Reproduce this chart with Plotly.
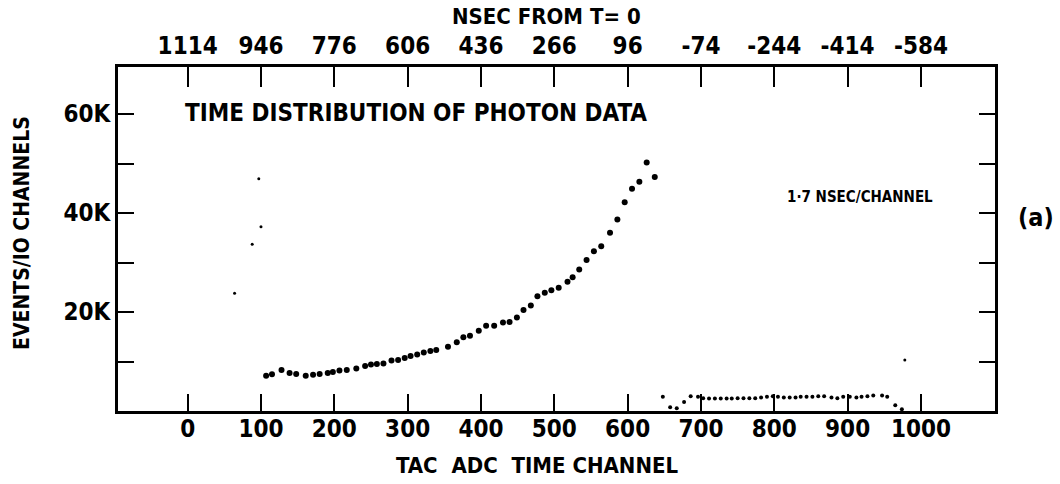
import plotly.graph_objects as go

# ---- data ----
main_channel = [107,115,128,139,148,161,171,180,191,198,207,217,230,242,250,258,267,278,287,296,
                304,313,322,331,339,355,367,376,385,397,407,418,430,439,449,458,468,477,487,496,
                506,518,525,534,544,554,564,576,586,596,606,616,626,637]
main_counts = [7.1,7.4,8.3,7.7,7.5,7.1,7.3,7.5,7.7,7.9,8.2,8.3,8.6,9.1,9.4,9.5,9.6,10.2,10.3,10.7,
               11.1,11.4,11.8,12.1,12.3,13.0,13.9,14.9,15.2,16.2,17.2,17.2,17.9,18.0,18.9,20.4,21.3,23.2,23.9,24.4,
               24.9,26.1,27.0,28.6,30.5,32.3,33.3,36.0,38.7,42.2,44.9,46.3,50.2,47.3]
main_counts = [v * 1000 for v in main_counts]

tail_channel = [648,658,667,677,686,696,703,711,719,727,735,742,750,758,766,774,782,790,798,805,
                813,821,829,836,844,852,860,868,878,886,894,903,912,919,927,935,947,954,965,974]
tail_counts = [2.9,0.75,0.55,1.8,3.0,2.9,2.6,2.55,2.55,2.55,2.55,2.55,2.6,2.6,2.6,2.6,2.75,2.9,3.0,2.9,
               2.75,2.75,2.75,2.9,2.9,2.9,3.0,3.0,2.75,2.6,2.9,2.9,2.75,2.9,3.0,3.15,3.15,2.9,1.15,0.35]
tail_counts = [v * 1000 for v in tail_counts]

stray_channel = [97, 100, 88, 64, 978]
stray_counts = [46.9, 37.2, 33.7, 23.8, 10.3]
stray_counts = [v * 1000 for v in stray_counts]

channel_ticks = [0, 100, 200, 300, 400, 500, 600, 700, 800, 900, 1000]
channel_labels = ["0", "100", "200", "300", "400", "500", "600", "700", "800", "900", "1000"]
nsec_labels = ["1114", "946", "776", "606", "436", "266", "96", "-74", "-244", "-414", "-584"]
y_ticks = [10000, 20000, 30000, 40000, 50000, 60000]
y_labels = ["", "20K", "", "40K", "", "60K"]

FONT = "DejaVu Sans Condensed, DejaVu Sans, sans-serif"
X_RANGE = [-95, 1101]
Y_RANGE = [0, 69500]

fig = go.Figure()
fig.add_trace(go.Scatter(x=main_channel, y=main_counts, mode="markers",
                         marker=dict(color="black", size=6), showlegend=False))
fig.add_trace(go.Scatter(x=tail_channel, y=tail_counts, mode="markers",
                         marker=dict(color="black", size=4), showlegend=False))
fig.add_trace(go.Scatter(x=stray_channel, y=stray_counts, mode="markers",
                         marker=dict(color="black", size=3), showlegend=False))
# invisible trace to activate the top axis
fig.add_trace(go.Scatter(x=[0], y=[0], xaxis="x2", mode="markers",
                         marker=dict(opacity=0), showlegend=False, hoverinfo="skip"))

tickfont = dict(family=FONT, size=24, color="black", weight="bold")
fig.update_layout(
    width=1060, height=484,
    margin=dict(l=118, r=65, t=67, b=73),
    paper_bgcolor="white", plot_bgcolor="white",
    font=dict(family=FONT, color="black", size=20),
    xaxis=dict(range=X_RANGE, tickmode="array", tickvals=channel_ticks, ticktext=channel_labels,
               ticks="inside", ticklen=17, tickwidth=2, tickcolor="black",
               showline=True, linewidth=3, linecolor="black", mirror=True,
               showgrid=False, zeroline=False, tickfont=tickfont, ticklabelstandoff=-6),
    xaxis2=dict(range=X_RANGE, overlaying="x", side="top", tickmode="array",
                tickvals=channel_ticks, ticktext=nsec_labels,
                ticks="inside", ticklen=20, tickwidth=2, tickcolor="black",
                showline=True, linewidth=3, linecolor="black",
                showgrid=False, zeroline=False, tickfont=tickfont),
    yaxis=dict(range=Y_RANGE, tickmode="array", tickvals=y_ticks, ticktext=y_labels,
               ticks="inside", ticklen=16, tickwidth=2, tickcolor="black",
               showline=True, linewidth=3, linecolor="black", mirror="ticks",
               showgrid=False, zeroline=False, tickfont=tickfont),
)

def px_to_paper(px, py):
    return (px - 118) / 877, (411 - py) / 344

annos = [
    ("NSEC FROM T= 0", 546, 17, 22, 0),
    ("TAC  ADC  TIME CHANNEL", 537, 465, 22, 0),
    ("EVENTS/IO CHANNELS", 22, 233, 21, -90),
    ("TIME DISTRIBUTION OF PHOTON DATA", 416, 113, 24, 0),
    ("1·7 NSEC/CHANNEL", 860, 197, 15, 0),
    ("(a)", 1036, 217, 25, 0),
]
for text, px, py, size, ang in annos:
    xp, yp = px_to_paper(px, py)
    fig.add_annotation(text=text, x=xp, y=yp, xref="paper", yref="paper",
                       showarrow=False, xanchor="center", yanchor="middle",
                       textangle=ang,
                       font=dict(family=FONT, size=size, color="black", weight="bold"))

fig.write_html("out.html")
